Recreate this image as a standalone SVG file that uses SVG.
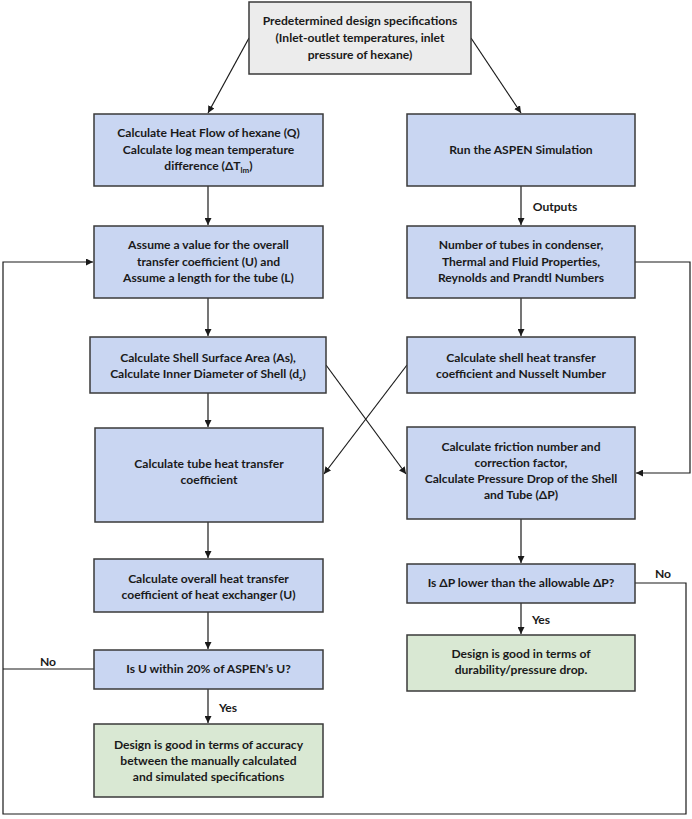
<svg xmlns="http://www.w3.org/2000/svg" width="692" height="819" viewBox="0 0 692 819">
<defs>
<style>
.b{fill:#c9d6f2;stroke:#3a3a3a;stroke-width:1.5}
.g{fill:#d9e8d3;stroke:#3a3a3a;stroke-width:1.5}
.p{fill:#ececec;stroke:#3a3a3a;stroke-width:1.5}
text{font-family:Lato,"Liberation Sans",sans-serif;font-weight:bold;font-size:12.1px;fill:#1a1a1a;text-anchor:middle}
.c{fill:none;stroke:#1a1a1a;stroke-width:1.2}
</style>
<marker id="ah" viewBox="0 0 10 10" refX="10" refY="5" markerWidth="7" markerHeight="7" orient="auto" markerUnits="userSpaceOnUse">
<path d="M0,0 L10,5 L0,10 z" fill="#1a1a1a"/>
</marker>
</defs>
<rect width="692" height="819" fill="#fff"/>

<g id="connectors">
<path class="c" d="M249,38 L208,113" marker-end="url(#ah)"/>
<path class="c" d="M471,38 L521,113" marker-end="url(#ah)"/>
<path class="c" d="M208,186 L208,225" marker-end="url(#ah)"/>
<path class="c" d="M521,186 L521,225" marker-end="url(#ah)"/>
<path class="c" d="M208,298 L208,336" marker-end="url(#ah)"/>
<path class="c" d="M521,298 L521,336" marker-end="url(#ah)"/>
<path class="c" d="M208,393 L208,427" marker-end="url(#ah)"/>
<path class="c" d="M326,365 L406,474" marker-end="url(#ah)"/>
<path class="c" d="M407,365 L324,474" marker-end="url(#ah)"/>
<path class="c" d="M635,262 L690,262 L690,473 L636,473" marker-end="url(#ah)"/>
<path class="c" d="M208,522 L208,558" marker-end="url(#ah)"/>
<path class="c" d="M521,519 L521,563" marker-end="url(#ah)"/>
<path class="c" d="M208,612 L208,649" marker-end="url(#ah)"/>
<path class="c" d="M208,689 L208,723" marker-end="url(#ah)"/>
<path class="c" d="M521,603 L521,634" marker-end="url(#ah)"/>
<path class="c" d="M94,669 L3,669"/>
<path class="c" d="M635,583 L686,583 L686,814 L3,814 L3,262 L93,262" marker-end="url(#ah)"/>
<text x="555" y="211">Outputs</text>
<text x="228" y="712">Yes</text>
<text x="541" y="624">Yes</text>
<text x="48" y="666">No</text>
<text x="663" y="578">No</text>
</g>

<g id="n_top">
<rect class="p" x="249" y="2" width="222" height="72"/>
<text x="360" y="25">Predetermined design specifications</text>
<text x="360" y="42">(Inlet-outlet temperatures, inlet</text>
<text x="360" y="59">pressure of hexane)</text>
</g>

<g id="n_heatflow">
<rect class="b" x="94" y="114" width="229" height="72"/>
<text x="208.5" y="137">Calculate Heat Flow of hexane (Q)</text>
<text x="208.5" y="154">Calculate log mean temperature</text>
<text x="208.5" y="170">difference (ΔT<tspan font-size="8" dy="3">lm</tspan><tspan dy="-3">)</tspan></text>
</g>

<g id="n_aspen">
<rect class="b" x="407" y="114" width="228" height="72"/>
<text x="521" y="154">Run the ASPEN Simulation</text>
</g>

<g id="n_assume">
<rect class="b" x="94" y="226" width="229" height="72"/>
<text x="208.5" y="249">Assume a value for the overall</text>
<text x="208.5" y="266">transfer coefficient (U) and</text>
<text x="208.5" y="282">Assume a length for the tube (L)</text>
</g>

<g id="n_tubes">
<rect class="b" x="407" y="226" width="228" height="72"/>
<text x="521" y="249">Number of tubes in condenser,</text>
<text x="521" y="266">Thermal and Fluid Properties,</text>
<text x="521" y="282">Reynolds and Prandtl Numbers</text>
</g>

<g id="n_shellarea">
<rect class="b" x="90" y="337" width="236" height="56"/>
<text x="208" y="362">Calculate Shell Surface Area (As),</text>
<text x="208" y="378">Calculate Inner Diameter of Shell (d<tspan font-size="8" dy="3">s</tspan><tspan dy="-3">)</tspan></text>
</g>

<g id="n_shellhtc">
<rect class="b" x="407" y="337" width="228" height="56"/>
<text x="521" y="362">Calculate shell heat transfer</text>
<text x="521" y="378">coefficient and Nusselt Number</text>
</g>

<g id="n_tubehtc">
<rect class="b" x="95" y="428" width="228" height="94"/>
<text x="209" y="468">Calculate tube heat transfer</text>
<text x="209" y="484">coefficient</text>
</g>

<g id="n_friction">
<rect class="b" x="407" y="427" width="228" height="92"/>
<text x="521" y="451">Calculate friction number and</text>
<text x="521" y="467">correction factor,</text>
<text x="521" y="483">Calculate Pressure Drop of the Shell</text>
<text x="521" y="499">and Tube (ΔP)</text>
</g>

<g id="n_overall">
<rect class="b" x="94" y="559" width="229" height="53"/>
<text x="208.5" y="583">Calculate overall heat transfer</text>
<text x="208.5" y="599">coefficient of heat exchanger (U)</text>
</g>

<g id="n_dp">
<rect class="b" x="407" y="564" width="228" height="39"/>
<text x="521" y="587">Is ΔP lower than the allowable ΔP?</text>
</g>

<g id="n_within">
<rect class="b" x="94" y="650" width="229" height="39"/>
<text x="208.5" y="673">Is U within 20% of ASPEN’s U?</text>
</g>

<g id="n_durable">
<rect class="g" x="407" y="635" width="228" height="56"/>
<text x="521" y="658">Design is good in terms of</text>
<text x="521" y="674">durability/pressure drop.</text>
</g>

<g id="n_accuracy">
<rect class="g" x="94" y="724" width="229" height="73"/>
<text x="208.5" y="749">Design is good in terms of accuracy</text>
<text x="208.5" y="765">between the manually calculated</text>
<text x="208.5" y="781">and simulated specifications</text>
</g>
</svg>
